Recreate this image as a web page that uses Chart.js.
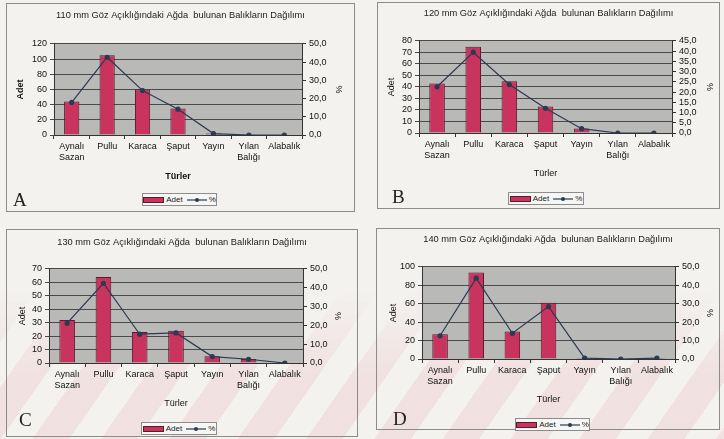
<!DOCTYPE html>
<html>
<head>
<meta charset="utf-8">
<script src="https://cdn.jsdelivr.net/npm/chart.js@4.4.0/dist/chart.umd.min.js"></script>
<style>
  body { margin:0; width:724px; height:439px; overflow:hidden; background:#f3f2ef; position:relative;
         font-family:"Liberation Sans", Arial, sans-serif; }
  .wm { position:absolute; left:0; top:290px; width:724px; height:149px;
        background:repeating-linear-gradient(125deg, rgba(238,196,202,.38) 0 30px, rgba(255,255,255,0) 30px 56px);
        -webkit-mask-image:linear-gradient(to bottom, transparent, #000 60%); mask-image:linear-gradient(to bottom, transparent, #000 60%); }
  .box { position:absolute; border:1px solid #8c8c8c; box-sizing:border-box; }
  canvas { position:absolute; }
  .letter { position:absolute; font-family:"Liberation Serif", "Times New Roman", serif; font-size:19px; line-height:19px; color:#222; }
  .legend { position:absolute; border:1px solid #8c8c8c; box-sizing:border-box; background:#f6f6f4;
            display:flex; align-items:center; justify-content:center; font-size:8px; color:#222; }
  .sw { display:inline-block; width:19px; height:4px; background:#c8345e; border:1px solid #5a1a2a; margin-right:2px; }
  .ln { display:inline-block; margin:0 2px 0 4px; }
</style>
</head>
<body>
<div class="wm"></div>

<div class="box" style="left:6px;top:3px;width:349px;height:209px"></div>
<div class="box" style="left:377px;top:2px;width:343px;height:207px"></div>
<div class="box" style="left:6px;top:229px;width:352px;height:208px"></div>
<div class="box" style="left:376px;top:228px;width:344px;height:202px"></div>

<canvas id="cA" width="349" height="209" style="left:6px;top:3px"></canvas>
<canvas id="cB" width="343" height="207" style="left:377px;top:2px"></canvas>
<canvas id="cC" width="352" height="208" style="left:6px;top:229px"></canvas>
<canvas id="cD" width="344" height="202" style="left:376px;top:228px"></canvas>

<div class="letter" style="left:13px;top:190px">A</div>
<div class="letter" style="left:392px;top:187px">B</div>
<div class="letter" style="left:19px;top:410px">C</div>
<div class="letter" style="left:393px;top:409px">D</div>

<script>
// kategoriler (türler)
const categories = [['Aynalı', 'Sazan'], 'Pullu', 'Karaca', 'Şaput', 'Yayın', ['Yılan', 'Balığı'], 'Alabalık'];

const titles = [
  '110 mm Göz Açıklığındaki Ağda  bulunan Balıkların Dağılımı',
  '120 mm Göz Açıklığındaki Ağda  bulunan Balıkların Dağılımı',
  '130 mm Göz Açıklığındaki Ağda  bulunan Balıkların Dağılımı',
  '140 mm Göz Açıklığındaki Ağda  bulunan Balıkların Dağılımı'
];

// adet + yüzde, her ağ için
const adetA = [44, 105, 60, 35, 2, 0, 0];
const yuzdeA = [17.9, 42.7, 24.4, 14.2, 0.8, 0, 0];
const adetB = [43, 75, 45, 23, 4, 0, 0];
const yuzdeB = [22.6, 39.5, 23.7, 12.1, 2.1, 0, 0];
const adetC = [32, 64, 23, 24, 5, 3, 0];
const yuzdeC = [21.2, 42.4, 15.3, 16.0, 3.4, 2.0, 0];
const adetD = [27, 94, 30, 61, 1, 0, 1];
const yuzdeD = [12.6, 43.9, 14.0, 28.5, 0.5, 0, 0.5];

// eksen etiketleri
const adetTicksA = [0, 20, 40, 60, 80, 100, 120];
const yuzdeTicksA = [0, 10, 20, 30, 40, 50];
const adetTicksB = [0, 10, 20, 30, 40, 50, 60, 70, 80];
const yuzdeTicksB = [0, 5, 10, 15, 20, 25, 30, 35, 40, 45];
const adetTicksC = [0, 10, 20, 30, 40, 50, 60, 70];
const yuzdeTicksC = [0, 10, 20, 30, 40, 50];
const adetTicksD = [0, 20, 40, 60, 80, 100];
const yuzdeTicksD = [0, 10, 20, 30, 40, 50];

const FONT = '"Liberation Sans", Arial, sans-serif';
Chart.defaults.font.family = FONT;
const barColor = '#c8345e';
const lineColor = '#2b3a52';

const plotBg = {
  id: 'plotBg',
  beforeDraw(chart) {
    const a = chart.chartArea, ctx = chart.ctx;
    ctx.save();
    ctx.fillStyle = '#b9b9b7';
    ctx.fillRect(a.left, a.top, a.right - a.left, a.bottom - a.top);
    ctx.restore();
  }
};

const panels = [
  { id: 'A', title: titles[0], adet: adetA, yuzde: yuzdeA, lt: adetTicksA, rt: yuzdeTicksA, bold: true,
    leftW: 48, rightW: 53, tTop: 6.4, tBot: 23.4, xH: 47, padB: 30, aPad: 9.6, pPad: 11.6, legend: [142, 193, 75] },
  { id: 'B', title: titles[1], adet: adetB, yuzde: yuzdeB, lt: adetTicksB, rt: yuzdeTicksB, bold: false,
    leftW: 42, rightW: 48, tTop: 5.4, tBot: 22.4, xH: 46, padB: 30, aPad: 9.6, pPad: 5.6, legend: [508, 192, 76] },
  { id: 'C', title: titles[2], adet: adetC, yuzde: yuzdeC, lt: adetTicksC, rt: yuzdeTicksC, bold: false,
    leftW: 43, rightW: 55, tTop: 7.4, tBot: 21.4, xH: 46, padB: 28, aPad: 11.6, pPad: 15.6, legend: [141, 422, 76] },
  { id: 'D', title: titles[3], adet: adetD, yuzde: yuzdeD, lt: adetTicksD, rt: yuzdeTicksD, bold: false,
    leftW: 46, rightW: 45, tTop: 5.4, tBot: 22.4, xH: 46, padB: 25, aPad: 12.6, pPad: 5.6, legend: [515, 418, 75] }
];

function addLegend(p) {
  const d = document.createElement('div');
  d.className = 'legend';
  d.style.left = p.legend[0] + 'px';
  d.style.top = p.legend[1] + 'px';
  d.style.width = p.legend[2] + 'px';
  d.style.height = '13px';
  d.innerHTML = '<span class="sw"></span><span>Adet</span>' +
    '<svg class="ln" width="20" height="6"><line x1="0" y1="3" x2="20" y2="3" stroke="' + lineColor + '" stroke-width="1.2"/>' +
    '<circle cx="10" cy="3" r="2" fill="' + lineColor + '"/></svg><span>%</span>';
  document.body.appendChild(d);
}

function makeChart(p) {
  const tickFont = { size: 9, family: FONT };
  const titleFont = { size: 9, family: FONT, weight: p.bold ? 'bold' : 'normal' };
  new Chart(document.getElementById('c' + p.id), {
    type: 'bar',
    data: {
      labels: categories,
      datasets: [
        { type: 'line', label: '%', data: p.yuzde, yAxisID: 'y1', borderColor: lineColor, backgroundColor: lineColor,
          borderWidth: 1.2, pointRadius: 2, pointHoverRadius: 2, tension: 0, order: 0 },
        { type: 'bar', label: 'Adet', data: p.adet, yAxisID: 'y', backgroundColor: barColor, borderColor: '#5a1a2a',
          borderWidth: 1, barPercentage: 0.43, categoryPercentage: 1, order: 1 }
      ]
    },
    options: {
      responsive: false, animation: false, devicePixelRatio: 1,
      layout: { padding: { left: 0, right: 0, top: 0, bottom: p.padB } },
      plugins: {
        legend: { display: false },
        tooltip: { enabled: false },
        title: { display: true, text: p.title, color: '#222', font: { size: 9.3, family: FONT, weight: 'normal', lineHeight: 1.2 },
                 padding: { top: p.tTop, bottom: p.tBot } }
      },
      scales: {
        x: {
          grid: { display: true, drawOnChartArea: false, color: '#333', tickLength: 4 },
          border: { color: '#333' },
          ticks: { color: '#111', font: tickFont, padding: 2, maxRotation: 0, autoSkip: false },
          title: { display: true, text: 'Türler', color: '#111', font: titleFont, padding: 0 },
          afterFit(s) { s.height = p.xH; }
        },
        y: {
          position: 'left', min: 0, max: p.lt[p.lt.length - 1],
          afterBuildTicks(s) { s.ticks = p.lt.map(v => ({ value: v })); },
          grid: { color: '#4a4a4a', tickLength: 4 },
          border: { color: '#333' },
          ticks: { color: '#111', font: tickFont, padding: 3, autoSkip: false },
          title: { display: true, text: 'Adet', color: '#111', font: titleFont, padding: { top: p.aPad, bottom: 0 } },
          afterFit(s) { s.width = p.leftW; }
        },
        y1: {
          position: 'right', min: 0, max: p.rt[p.rt.length - 1],
          afterBuildTicks(s) { s.ticks = p.rt.map(v => ({ value: v })); },
          grid: { drawOnChartArea: false, color: '#333', tickLength: 4 },
          border: { color: '#333' },
          ticks: { color: '#111', font: tickFont, padding: 3, autoSkip: false,
                   callback: v => v.toFixed(1).replace('.', ',') },
          title: { display: true, text: '%', color: '#111', font: { size: 9, family: FONT }, padding: { top: p.pPad, bottom: 0 } },
          afterFit(s) { s.width = p.rightW; }
        }
      }
    },
    plugins: [plotBg]
  });
  addLegend(p);
}

panels.forEach(makeChart);
</script>
</body>
</html>
